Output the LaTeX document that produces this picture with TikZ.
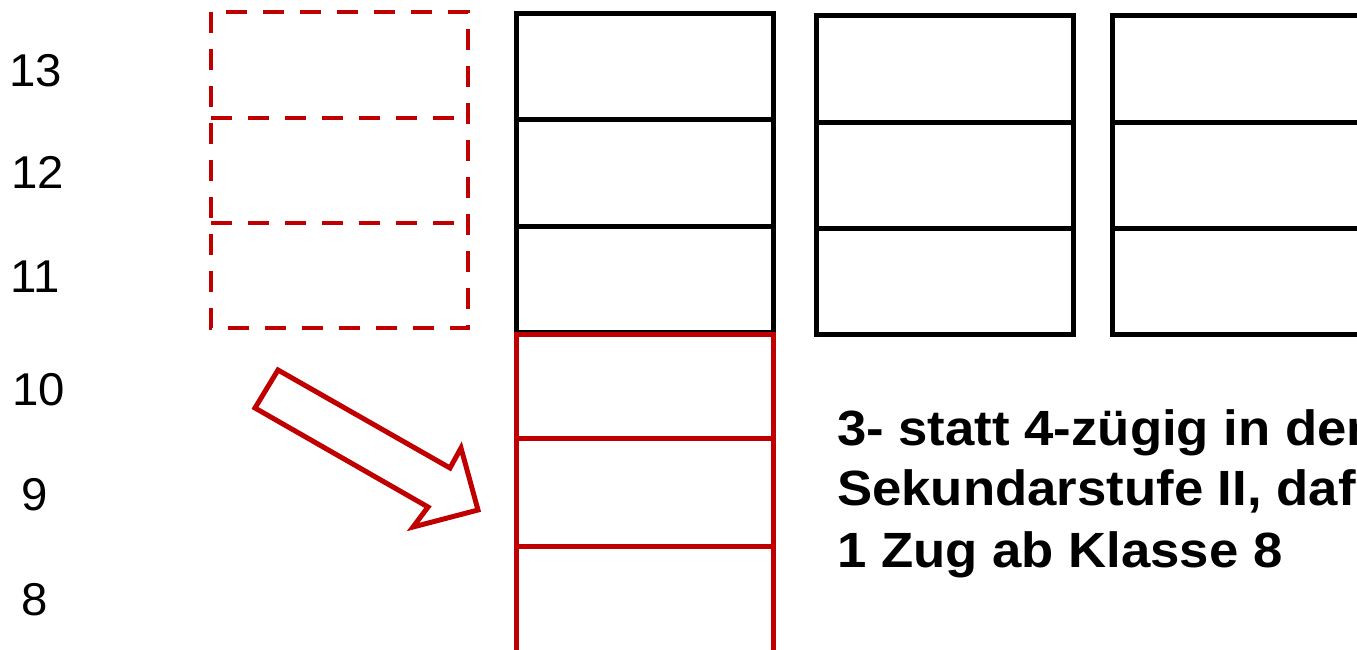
\documentclass[tikz,border=0pt]{standalone}
\usepackage{fontspec}
\setmainfont{Liberation Sans}
\newfontfamily\notefont[FakeStretch=1.065]{Liberation Sans}
\newfontfamily\numfont[FakeStretch=1.03]{Liberation Sans}
\definecolor{dred}{HTML}{C00000}
\tikzset{
  blk/.style={draw=black, line width=5pt, line join=miter},
  redbox/.style={draw=dred, line width=5pt},
  dashbox/.style={draw=dred, line width=4.5pt, dash pattern=on 21pt off 16pt},
  num/.style={font=\numfont\fontsize{46}{54}\selectfont, anchor=base, inner sep=0pt},
  note/.style={font=\notefont\fontsize{49.5}{60}\selectfont\bfseries, anchor=base west, inner sep=0pt}
}
\begin{document}
\begin{tikzpicture}[x=1pt, y=-1pt]
\useasboundingbox (0,0) rectangle (1357,650);
\clip (0,0) rectangle (1357,650);
% year labels
\node[num] (n13) at (36,87) {13};
\node[num] (n12) at (37.5,188) {12};
\node[num] (n11) at (35,292) {11};
\node[num] (n10) at (39,405) {10};
\node[num] (n9)  at (34.5,510) {9};
\node[num] (n8)  at (35,615) {8};
% dashed red column
\draw[dashbox] (211,12) rectangle (468,328);
\draw[dashbox] (211,118) -- (468,118);
\draw[dashbox] (211,223) -- (468,223);
% column 1 black
\draw[blk] (516,14) rectangle (773,332);
\draw[blk] (516,120) -- (773,120);
\draw[blk] (516,226) -- (773,226);
% column 1 red lower part
\draw[redbox] (516,334) rectangle (773,652);
\draw[redbox] (516,438) -- (773,438);
\draw[redbox] (516,546) -- (773,546);
% column 2
\draw[blk] (816,16) rectangle (1073,334);
\draw[blk] (816,123) -- (1073,123);
\draw[blk] (816,228) -- (1073,228);
% column 3
\draw[blk] (1112,16) rectangle (1380,334);
\draw[blk] (1112,123) -- (1380,123);
\draw[blk] (1112,228) -- (1380,228);
% block arrow
\draw[redbox, line join=miter] (278,370) -- (450,468) -- (461,448) -- (478,510) -- (413,527) -- (428,507) -- (255,408) -- cycle;
% text
\node[note] (t1) at (837,445) {3- statt 4-zügig in den};
\node[note] (t2) at (837,505) {Sekundarstufe II, dafür};
\node[note] (t3) at (837,567) {1 Zug ab Klasse 8};
\end{tikzpicture}
\end{document}
